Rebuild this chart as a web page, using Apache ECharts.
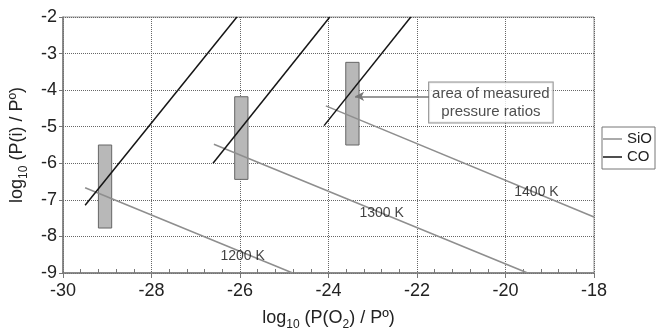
<!DOCTYPE html>
<html>
<head>
<meta charset="utf-8">
<script src="https://cdn.jsdelivr.net/npm/echarts@6/dist/echarts.min.js"></script>
<style>
  html, body { margin: 0; padding: 0; background: #fff; }
  #chart { width: 656px; height: 336px; }
</style>
</head>
<body>
<div id="chart"></div>
<script>
// tick values of the two axes
const xTicks = [-30, -28, -26, -24, -22, -20, -18];
const yTicks = [-9, -8, -7, -6, -5, -4, -3, -2];

// CO lines (black), each [start, end] in [log P(O2), log P(i)]
const coLines = [
  [[-29.5, -7.15], [-26.07, -2]],
  [[-26.61, -6.0], [-23.97, -2]],
  [[-24.1, -4.97], [-22.14, -2]]
];
// SiO lines (grey), one per temperature
const sioLines = [
  [[-29.5, -6.67], [-24.81, -9]],
  [[-26.59, -5.48], [-19.5, -9]],
  [[-24.06, -4.43], [-18, -7.47]]
];
const sioTemps = ['1200 K', '1300 K', '1400 K'];
const sioTempPos = [[-25.94, -8.55], [-22.8, -7.35], [-19.3, -6.79]];

// measured pressure ratio areas: [x, yLow, yHigh]
const measured = [
  [-29.05, -7.77, -5.5],
  [-25.97, -6.44, -4.18],
  [-23.46, -5.5, -3.24]
];
const noteText = 'area of measured\npressure ratios';
const notePos = [-20.33, -4.34];
const arrowFrom = [-21.72, -4.17];
const arrowTo = [-23.4, -4.17];

const FONT = 'Liberation Sans, Arial, sans-serif';
const chart = echarts.init(document.getElementById('chart'));

// 轴标题, 下标用 rich
function axisTitle(parts) {
  return parts.map(p => (p[1] ? '{s|' : '{a|') + p[0] + '}').join('');
}
const titleRich = {
  a: { fontSize: 18, fontFamily: FONT, color: '#222', lineHeight: 22, verticalAlign: 'top' },
  s: { fontSize: 12, fontFamily: FONT, color: '#222', lineHeight: 22, verticalAlign: 'bottom' }
};

const series = [];
series.push({
  name: 'area',
  type: 'custom',
  z: 1,
  data: measured,
  renderItem(params, api) {
    const x = api.value(0);
    const p1 = api.coord([x - 0.15, api.value(2)]);
    const p2 = api.coord([x + 0.15, api.value(1)]);
    return {
      type: 'rect',
      shape: { x: p1[0], y: p1[1], width: p2[0] - p1[0], height: p2[1] - p1[1] },
      style: { fill: '#b8b8b8', stroke: '#666', lineWidth: 1 }
    };
  },
  markLine: {
    silent: true,
    symbol: ['none', 'arrow'],
    symbolSize: [7, 9],
    label: { show: false },
    lineStyle: { color: '#777', width: 1.5, type: 'solid' },
    data: [[{ coord: arrowFrom }, { coord: arrowTo }]]
  }
});
sioLines.forEach(d => {
  series.push({
    name: 'SiO', type: 'line', symbol: 'none', z: 3, data: d,
    lineStyle: { color: '#8e8e8e', width: 1.5 }, itemStyle: { color: '#8e8e8e' }
  });
});
coLines.forEach(d => {
  series.push({
    name: 'CO', type: 'line', symbol: 'none', z: 4, data: d,
    lineStyle: { color: '#151515', width: 1.5 }, itemStyle: { color: '#151515' }
  });
});
series.push({
  name: 'temps',
  type: 'scatter',
  symbolSize: 0,
  z: 5,
  data: sioTempPos.map((p, i) => ({ value: p, name: sioTemps[i] })),
  label: {
    show: true, position: 'inside', formatter: '{b}',
    fontSize: 14, fontFamily: FONT, color: '#111'
  }
});
series.push({
  name: 'note',
  type: 'scatter',
  symbolSize: 0,
  z: 6,
  data: [notePos],
  label: {
    show: true, position: 'inside', formatter: noteText,
    fontSize: 15, fontFamily: FONT, color: '#222', lineHeight: 18, align: 'center',
    backgroundColor: '#fff', borderColor: '#777', borderWidth: 1, padding: [2, 3]
  }
});

const xBase = {
  type: 'value',
  position: 'bottom',
  min: xTicks[0], max: xTicks[xTicks.length - 1], interval: 2
};

const option = {
  backgroundColor: '#fff',
  animation: false,
  grid: {
    left: 62, right: 62, top: 17, bottom: 56,
    show: true, borderColor: '#999', borderWidth: 1, backgroundColor: 'transparent'
  },
  legend: {
    data: ['SiO', 'CO'],
    icon: 'rect',
    orient: 'vertical',
    left: 602, top: 127,
    padding: [4, 3, 4, 1],
    itemGap: 2,
    itemWidth: 19, itemHeight: 1.5,
    borderColor: '#777', borderWidth: 1,
    textStyle: { fontSize: 15, fontFamily: FONT, color: '#222', lineHeight: 16 }
  },
  xAxis: [
    Object.assign({}, xBase, {
      name: axisTitle([['log'], ['10', 1], [' (P(O'], ['2', 1], [') / P\u00ba)']]),
      nameLocation: 'middle', nameGap: 36,
      nameTextStyle: { rich: titleRich },
      axisLine: { lineStyle: { color: '#777', width: 1.5 } },
      axisTick: { length: 5, lineStyle: { color: '#777' } },
      axisLabel: { fontSize: 18, fontFamily: FONT, color: '#222', margin: 9 },
      splitLine: { lineStyle: { color: '#666', type: 'dotted', width: 1 } }
    }),
    // 只画朝内的小刻度
    Object.assign({}, xBase, {
      axisLine: { show: false },
      axisTick: { show: false, inside: true },
      minorTick: { show: true, splitNumber: 5, length: 4, lineStyle: { color: '#777' } },
      axisLabel: { show: false },
      splitLine: { show: false }
    })
  ],
  yAxis: {
    type: 'value',
    min: yTicks[0], max: yTicks[yTicks.length - 1], interval: 1,
    name: axisTitle([['log'], ['10', 1], [' (P(i) / P\u00ba)']]),
    nameLocation: 'middle', nameGap: 33,
    nameTextStyle: { rich: titleRich },
    axisLine: { lineStyle: { color: '#777', width: 1.5 } },
    axisTick: { length: 4, lineStyle: { color: '#777' } },
    axisLabel: { fontSize: 18, fontFamily: FONT, color: '#222', margin: 6 },
    splitLine: { lineStyle: { color: '#666', type: 'dotted', width: 1 } }
  },
  series: series
};

chart.setOption(option);
window.addEventListener('resize', () => chart.resize());
</script>
</body>
</html>
